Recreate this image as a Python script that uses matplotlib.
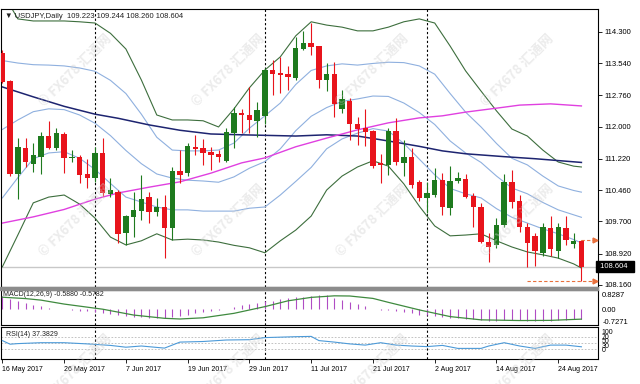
import matplotlib
matplotlib.use("Agg")
import matplotlib.pyplot as plt
import matplotlib.transforms as mtransforms
from matplotlib.patches import Rectangle
import numpy as np

plt.rcParams["font.family"] = ["Liberation Sans", "DejaVu Sans"]

# ---- daily candles USDJPY, 16 May - 29 Aug 2017 ----
opens = [113.78, 113.10, 110.84, 111.49, 111.08, 111.27, 111.78, 111.49, 111.82, 111.23,
         111.25, 110.84, 110.76, 111.35, 110.36, 110.42, 109.43, 109.80, 109.96, 110.30,
         109.94, 110.04, 109.53, 110.92, 110.87, 111.51, 111.47, 111.39, 111.33, 111.17,
         111.84, 112.34, 112.28, 112.14, 112.25, 113.37, 113.29, 113.27, 113.17, 113.87,
         114.03, 113.95, 113.13, 113.27, 112.42, 112.63, 112.06, 111.97, 111.90, 111.11,
         111.07, 111.89, 111.12, 111.25, 110.66, 110.26, 110.34, 110.70, 110.02, 110.68,
         110.72, 110.32, 110.06, 109.19, 109.13, 109.61, 110.66, 110.20, 109.57, 109.35,
         108.94, 109.53, 108.99, 109.53, 109.16, 109.223]
highs = [113.85, 113.13, 111.73, 111.72, 111.61, 111.88, 112.14, 111.96, 111.88, 111.43,
         111.31, 111.21, 111.50, 111.72, 110.75, 110.46, 109.85, 110.42, 110.83, 110.42,
         110.26, 110.34, 111.03, 111.43, 111.61, 111.80, 111.69, 111.51, 111.43, 111.96,
         112.47, 112.42, 112.95, 112.60, 113.41, 113.61, 113.69, 113.47, 114.18, 114.32,
         114.50, 113.95, 113.55, 113.57, 112.89, 112.69, 112.24, 112.42, 111.92, 111.34,
         111.97, 112.20, 111.67, 111.49, 110.70, 110.66, 110.99, 110.87, 111.04, 110.91,
         110.84, 110.38, 110.14, 109.41, 109.78, 110.84, 110.95, 110.34, 109.66, 109.43,
         109.66, 109.83, 109.66, 109.83, 109.41, 109.244]
lows = [113.05, 110.81, 110.24, 111.03, 110.91, 110.85, 111.45, 111.43, 110.87, 111.15,
        110.64, 110.50, 110.66, 110.32, 110.30, 109.17, 109.13, 109.33, 109.74, 109.66,
        109.82, 108.81, 109.25, 110.64, 110.79, 111.31, 111.07, 110.95, 111.15, 111.15,
        111.47, 111.84, 111.84, 111.74, 112.05, 112.77, 112.81, 112.89, 113.13, 113.86,
        113.74, 112.93, 112.86, 112.24, 112.34, 111.67, 111.55, 111.53, 111.00, 110.62,
        110.83, 111.07, 110.79, 110.52, 110.20, 109.90, 110.30, 109.86, 109.86, 110.64,
        110.26, 109.57, 109.17, 108.72, 109.05, 109.57, 110.02, 109.45, 108.60, 108.62,
        108.85, 108.85, 108.81, 109.13, 109.05, 108.260]
closes = [113.09, 110.84, 111.51, 111.15, 111.31, 111.78, 111.49, 111.84, 111.23, 111.27,
          110.83, 110.76, 111.35, 110.38, 110.45, 109.40, 109.82, 109.98, 110.24, 109.94,
          110.04, 109.53, 110.92, 110.83, 111.53, 111.45, 111.35, 111.31, 111.25, 111.88,
          112.34, 112.27, 112.16, 112.40, 113.37, 113.27, 113.25, 113.19, 113.90, 114.03,
          113.94, 113.13, 113.27, 112.54, 112.66, 112.05, 111.94, 111.88, 111.04, 111.06,
          111.89, 111.15, 111.25, 110.58, 110.26, 110.38, 110.70, 110.06, 110.69, 110.75,
          110.30, 110.04, 109.19, 109.07, 109.61, 110.66, 110.18, 109.56, 109.17, 108.98,
          109.56, 109.02, 109.56, 109.25, 109.22, 108.604]

date_labels = ["16 May 2017", "26 May 2017", "7 Jun 2017", "19 Jun 2017", "29 Jun 2017",
               "11 Jul 2017", "21 Jul 2017", "2 Aug 2017", "14 Aug 2017", "24 Aug 2017"]
label_bars = [0, 8, 16, 24, 32, 40, 48, 56, 64, 72]
month_start_bars = [12, 34, 55]

price_ticks = [114.300, 113.540, 112.760, 112.000, 111.220, 110.460, 109.700, 108.920, 108.160]

# ---- Bollinger bands (outer = dark green, inner + middle = light blue) ----
bb_bars = list(range(0, 76, 2)) + [75]
bb_upper = [115.26, 114.61, 114.56, 114.56, 114.56, 114.54, 114.51, 114.26, 113.88, 113.13,
            112.28, 112.16, 112.16, 112.14, 111.99, 112.43, 112.94, 113.37, 113.69, 114.20,
            114.54, 114.46, 114.41, 114.32, 114.32, 114.41, 114.54, 114.61, 114.51, 113.95,
            113.35, 112.86, 112.38, 111.94, 111.77, 111.43, 111.14, 111.04, 111.02]
bb_lower = [108.60, 109.37, 110.15, 110.29, 110.34, 110.12, 109.78, 109.32, 109.13, 109.23,
            109.40, 109.25, 109.27, 109.25, 109.20, 109.12, 109.06, 108.94, 109.23, 109.49,
            109.83, 110.46, 110.80, 111.02, 111.17, 111.04, 110.61, 110.07, 109.59, 109.35,
            109.37, 109.40, 109.23, 109.08, 108.96, 108.89, 108.81, 108.67, 108.57]
bb_mid = [111.93, 112.16, 112.36, 112.43, 112.41, 112.28, 112.08, 111.78, 111.42, 111.10,
          110.85, 110.75, 110.70, 110.68, 110.65, 110.78, 110.99, 111.15, 111.46, 111.90,
          112.25, 112.46, 112.61, 112.67, 112.74, 112.73, 112.57, 112.34, 112.05, 111.65,
          111.36, 111.13, 110.80, 110.51, 110.37, 110.16, 109.98, 109.86, 109.80]
bb_in_upper = [113.60, 113.54, 113.50, 113.49, 113.47, 113.42, 113.34, 113.12, 112.80, 112.30,
               111.74, 111.43, 111.41, 111.41, 111.43, 111.60, 111.96, 112.26, 112.57, 113.02,
               113.36, 113.47, 113.52, 113.49, 113.53, 113.56, 113.55, 113.47, 113.27, 112.80,
               112.35, 111.99, 111.59, 111.23, 111.07, 110.80, 110.56, 110.45, 110.41]
bb_in_lower = [110.27, 110.76, 111.22, 111.36, 111.39, 111.23, 110.96, 110.62, 110.29, 110.17,
               110.05, 109.98, 109.98, 109.95, 109.95, 109.95, 110.02, 110.05, 110.34, 110.67,
               111.01, 111.46, 111.70, 111.84, 111.95, 111.89, 111.59, 111.21, 110.83, 110.50,
               110.37, 110.27, 110.01, 109.80, 109.66, 109.52, 109.40, 109.26, 109.18]

# ---- moving averages ----
navy_bars = [0, 4, 8, 12, 15, 19, 23, 27, 31, 38, 42, 46, 50, 54, 57, 60, 65, 69, 75]
navy_ma = [112.96, 112.72, 112.49, 112.30, 112.20, 112.04, 111.91, 111.82, 111.80, 111.77,
           111.80, 111.77, 111.65, 111.52, 111.41, 111.34, 111.27, 111.22, 111.13]
pink_bars = [0, 4, 8, 12, 15, 19, 23, 27, 31, 34, 38, 42, 46, 50, 54, 57, 60, 65, 67, 71, 75]
pink_ma = [109.66, 109.81, 109.99, 110.24, 110.39, 110.53, 110.66, 110.87, 111.12, 111.24,
           111.51, 111.72, 111.92, 112.09, 112.21, 112.26, 112.35, 112.47, 112.52, 112.55, 112.50]

# ---- MACD(12,26,9) ----
macd_main = [0.75, 0.62, 0.47, 0.38, 0.26, 0.16, 0.08, 0.04, 0.02, -0.02,
             -0.08, -0.13, -0.18, -0.23, -0.28, -0.34, -0.42, -0.46, -0.47, -0.49,
             -0.52, -0.54, -0.48, -0.41, -0.33, -0.24, -0.16, -0.09, -0.03, 0.04,
             0.14, 0.24, 0.32, 0.38, 0.45, 0.50, 0.57, 0.63, 0.69, 0.73,
             0.78, 0.82, 0.83, 0.65, 0.52, 0.40, 0.30, 0.16, 0.04, -0.03,
             -0.06, -0.12, -0.18, -0.24, -0.31, -0.36, -0.41, -0.45, -0.50, -0.53,
             -0.56, -0.59, -0.64, -0.70, -0.66, -0.62, -0.62, -0.64, -0.68, -0.70,
             -0.68, -0.66, -0.63, -0.60, -0.59, -0.5880]
signal_bars = [0, 3, 5, 8, 10, 13, 17, 21, 23, 26, 30, 34, 37, 40, 43, 45, 48, 50, 54, 58, 62, 67, 71, 75]
macd_signal = [0.70, 0.62, 0.53, 0.30, 0.18, 0.0, -0.34, -0.53, -0.57, -0.50, -0.24, 0.15,
               0.49, 0.69, 0.78, 0.77, 0.63, 0.40, -0.04, -0.43, -0.62, -0.66, -0.65, -0.5782]
macd_ticks = [0.8287, 0.0, -0.7271]
macd_tick_labels = ["0.8287", "0.00", "-0.7271"]

# ---- RSI(14) ----
rsi_bars = [0, 1, 2, 5, 8, 11, 14, 16, 18, 21, 23, 26, 29, 32, 34, 38, 40, 41, 43, 45,
            47, 49, 51, 53, 55, 57, 59, 62, 63, 65, 67, 69, 71, 73, 75]
rsi_vals = [58, 46, 48, 51, 51, 47, 42, 36, 40, 33, 53, 55, 60, 61, 68, 71, 72, 58, 53, 47,
            43, 51, 43, 40, 38, 42, 32, 32, 40, 51, 40, 32, 43, 43, 37.3829]
rsi_levels = [70, 50, 30]

UP = "#1e7a1e"
DOWN = "#e8141c"
W, H = 640, 384


def box(x0, y0, x1, y1):
    return [x0 / W, 1 - y1 / H, (x1 - x0) / W, (y1 - y0) / H]


fig = plt.figure(figsize=(6.4, 3.84), dpi=100)
ax = fig.add_axes(box(1, 9, 598, 287))
ax_m = fig.add_axes(box(1, 290, 598, 325), sharex=ax)
ax_r = fig.add_axes(box(1, 327, 598, 359), sharex=ax)
fig.patches.append(Rectangle((0, 1 - 290 / H), 598 / W, 3 / H, transform=fig.transFigure,
                             color="#8c8c8c", zorder=0))

x = np.arange(len(opens))
o, h, l, c = map(np.array, (opens, highs, lows, closes))
col = np.where(c >= o, UP, DOWN)

for a in (ax, ax_m, ax_r):
    for b in month_start_bars:
        a.axvline(b, color="black", lw=0.8, ls=(0, (2, 2)), zorder=1)
    for s in a.spines.values():
        s.set_linewidth(0.8)

# main price panel
ax.plot(bb_bars, bb_upper, color="#3d6e3d", lw=0.8, zorder=2)
ax.plot(bb_bars, bb_lower, color="#3d6e3d", lw=0.8, zorder=2)
for series in (bb_mid, bb_in_upper, bb_in_lower):
    ax.plot(bb_bars, series, color="#8fb0df", lw=0.8, zorder=2)
ax.plot(navy_bars, navy_ma, color="#1d2470", lw=1.1, zorder=2)
ax.plot(pink_bars, pink_ma, color="#e040e0", lw=1.0, zorder=2)
ax.axhline(closes[-1], color="#c8c8c8", lw=1.0, zorder=1)

ax.vlines(x, l, h, color=col, lw=0.8, zorder=3)
body = np.maximum(np.abs(c - o), 0.035)
ax.bar(x, body, bottom=np.minimum(o, c), width=0.7, color=col, lw=0, zorder=4)

# high / low markers of the last bar
ax.plot([75, 76.9], [highs[-1]] * 2, color="#e8703c", lw=0.8, ls=(0, (3, 2)), zorder=3)
ax.plot([68, 76.9], [lows[-1]] * 2, color="#e8703c", lw=0.8, ls=(0, (3, 2)), zorder=3)
ax.plot([76.8, 76.8], [highs[-1], lows[-1]], ls="none", marker=">", ms=3.5,
        color="#e8703c", zorder=3)

ax.set_xlim(-0.18, 77.15)
ax.set_ylim(108.11, 114.85)
ax.yaxis.tick_right()
ax.set_yticks(price_ticks)
ax.set_yticklabels(["%.3f" % v for v in price_ticks])
ax.tick_params(axis="y", length=3, width=0.6, labelsize=5.5, pad=2)
ax.tick_params(axis="x", bottom=False, labelbottom=False)
trans = mtransforms.blended_transform_factory(ax.transAxes, ax.transData)
ax.text(1.0, closes[-1], " %.3f  " % closes[-1], transform=trans, ha="left", va="center",
        fontsize=5.5, color="white", zorder=6,
        bbox=dict(boxstyle="square,pad=0.25", fc="black", ec="black"))

fig.text(5 / W, 1 - 16 / H, "\u25bc USDJPY,Daily  %.3f %.3f %.3f %.3f"
         % (opens[-1], highs[-1], lows[-1], closes[-1]),
         fontsize=5.5, color="#202020", va="center", ha="left")

# MACD panel
ax_m.vlines(x, 0, macd_main, color="#b04cc4", lw=0.8, zorder=3)
ax_m.plot(signal_bars, macd_signal, color="#3f8a3f", lw=0.9, zorder=4)
ax_m.set_ylim(-0.92, 1.12)
ax_m.yaxis.tick_right()
ax_m.set_yticks(macd_ticks)
ax_m.set_yticklabels(macd_tick_labels)
ax_m.tick_params(axis="y", length=0, labelsize=5.5, pad=3)
ax_m.tick_params(axis="x", bottom=False, labelbottom=False)
ax_m.text(0.004, 0.86, "MACD(12,26,9) %.4f %.4f" % (macd_main[-1], macd_signal[-1]),
          transform=ax_m.transAxes, fontsize=5, va="center", color="#202020")

# RSI panel
for lv in rsi_levels:
    ax_r.axhline(lv, color="#b8b8b8", lw=0.6, ls=(0, (2, 2)), zorder=2)
ax_r.plot(rsi_bars, rsi_vals, color="#4c9ad8", lw=0.8, zorder=3)
ax_r.set_ylim(-3.3, 103.3)
ax_r.set_yticks([])
rt = mtransforms.blended_transform_factory(ax_r.transAxes, ax_r.transData)
for lab, yv in zip(["100", "70", "50", "30", "0"], [84, 69, 54, 40, 25]):
    ax_r.text(1.006, yv, lab, transform=rt, fontsize=5, va="center", ha="left")
ax_r.text(0.008, 0.78, "RSI(14) %.4f" % rsi_vals[-1], transform=ax_r.transAxes,
          fontsize=5, va="center", color="#202020")
ax_r.set_xticks(label_bars)
ax_r.set_xticklabels(date_labels, ha="left")
ax_r.tick_params(axis="x", length=3, width=0.6, labelsize=5, pad=2)

# watermark
for wx in (75, 228, 372, 517):
    for wy in (70, 220, 370):
        fig.text(wx / W, 1 - wy / H, "\u00a9 FX678 \u6c47\u901a\u7f51", rotation=45,
                 ha="center", va="center", fontsize=9.5, fontweight="bold",
                 color="#cfcfcf", alpha=0.4, zorder=10,
                 family=["Noto Sans CJK SC", "DejaVu Sans"])

fig.savefig("out.png", dpi=100, facecolor="white")
